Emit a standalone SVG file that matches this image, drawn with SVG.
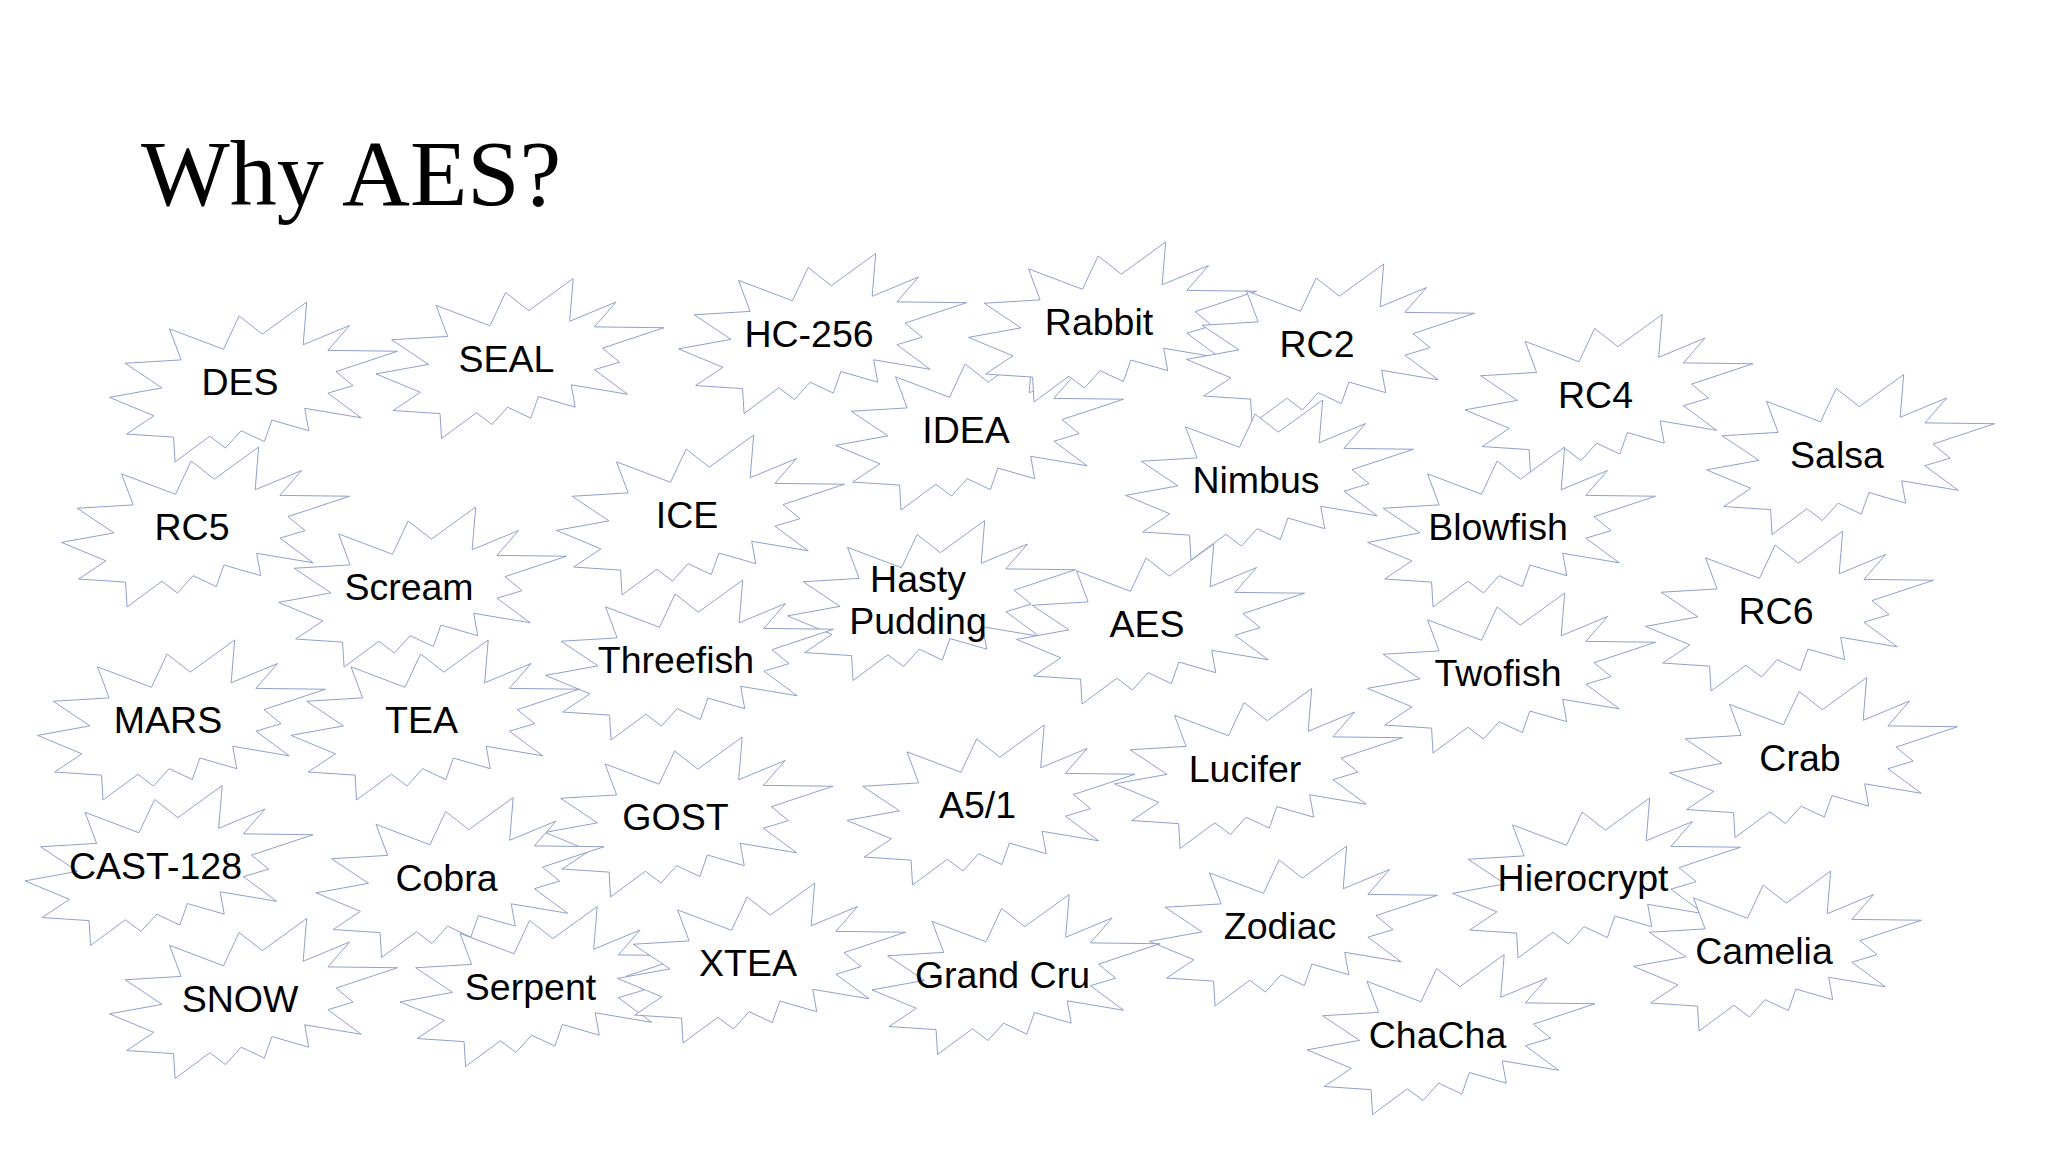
<svg xmlns="http://www.w3.org/2000/svg" width="2048" height="1152" viewBox="0 0 2048 1152">
<style>
.lbl{font-family:"Liberation Sans",Arial,sans-serif;font-size:37.5px;fill:#000;text-anchor:middle}
.title{font-family:"Liberation Serif","Times New Roman",serif;font-size:94px;fill:#000}
</style>
<defs>
<path id="star" d="M152.83,32.16 L197.2,0 L193.67,42.79 L240.09,23.5 L218.4,48.39 L288,49.22 L226.47,69.64 L243.6,83.63 L218.4,91.19 L251.69,115.79 L195.2,106.3 L199.23,128.67 L162.4,118.04 L154.83,139.57 L131.63,128.67 L116,146.01 L100.36,134.26 L65.56,160 L64.07,135.11 L17.13,132.04 L44.4,113.85 L0,95.39 L52.47,85.87 L15.63,61.26 L71.63,57.9 L60.03,26.85 L114,47.27 L129.63,13.98 Z" fill="#ffffff" stroke="#8595c4" stroke-width="0.9" stroke-linejoin="miter"/>
</defs>
<rect width="2048" height="1152" fill="#ffffff"/>
<text class="title" x="141" y="205">Why AES?</text>
<g id="nodes">
<g id="n-des" transform="translate(109.5,302)"><use href="#star"/><text class="lbl" x="130.5" y="93.4">DES</text></g>
<g id="n-seal" transform="translate(376,278.5)"><use href="#star"/><text class="lbl" x="130.5" y="93.4">SEAL</text></g>
<g id="n-hc256" transform="translate(678.5,253.5)"><use href="#star"/><text class="lbl" x="130.5" y="93.4">HC-256</text></g>
<g id="n-idea" transform="translate(835.5,350)"><use href="#star"/><text class="lbl" x="130.5" y="93.4">IDEA</text></g>
<g id="n-rabbit" transform="translate(968.5,242)"><use href="#star"/><text class="lbl" x="130.5" y="93.4">Rabbit</text></g>
<g id="n-rc2" transform="translate(1186.5,264)"><use href="#star"/><text class="lbl" x="130.5" y="93.4">RC2</text></g>
<g id="n-rc4" transform="translate(1465,314.5)"><use href="#star"/><text class="lbl" x="130.5" y="93.4">RC4</text></g>
<g id="n-salsa" transform="translate(1706.5,374.5)"><use href="#star"/><text class="lbl" x="130.5" y="93.4">Salsa</text></g>
<g id="n-nimbus" transform="translate(1125.5,400)"><use href="#star"/><text class="lbl" x="130.5" y="93.4">Nimbus</text></g>
<g id="n-rc5" transform="translate(61.5,447)"><use href="#star"/><text class="lbl" x="130.5" y="93.4">RC5</text></g>
<g id="n-ice" transform="translate(556.5,435)"><use href="#star"/><text class="lbl" x="130.5" y="93.4">ICE</text></g>
<g id="n-blowfish" transform="translate(1367.5,447)"><use href="#star"/><text class="lbl" x="130.5" y="93.4">Blowfish</text></g>
<g id="n-scream" transform="translate(278.5,507)"><use href="#star"/><text class="lbl" x="130.5" y="93.4">Scream</text></g>
<g id="n-hasty" transform="translate(787.5,520.5)"><use href="#star"/><text class="lbl" x="130.5" y="71.5">Hasty</text><text class="lbl" x="130.5" y="113.5">Pudding</text></g>
<g id="n-aes" transform="translate(1016.5,544)"><use href="#star"/><text class="lbl" x="130.5" y="93.4">AES</text></g>
<g id="n-rc6" transform="translate(1645.5,531)"><use href="#star"/><text class="lbl" x="130.5" y="93.4">RC6</text></g>
<g id="n-threefish" transform="translate(545.5,580)"><use href="#star"/><text class="lbl" x="130.5" y="93.4">Threefish</text></g>
<g id="n-twofish" transform="translate(1367.5,593)"><use href="#star"/><text class="lbl" x="130.5" y="93.4">Twofish</text></g>
<g id="n-mars" transform="translate(37.5,640)"><use href="#star"/><text class="lbl" x="130.5" y="93.4">MARS</text></g>
<g id="n-tea" transform="translate(291,640)"><use href="#star"/><text class="lbl" x="130.5" y="93.4">TEA</text></g>
<g id="n-crab" transform="translate(1669.5,677.5)"><use href="#star"/><text class="lbl" x="130.5" y="93.4">Crab</text></g>
<g id="n-lucifer" transform="translate(1114.5,688.5)"><use href="#star"/><text class="lbl" x="130.5" y="93.4">Lucifer</text></g>
<g id="n-a51" transform="translate(847,725)"><use href="#star"/><text class="lbl" x="130.5" y="93.4">A5/1</text></g>
<g id="n-gost" transform="translate(545,737)"><use href="#star"/><text class="lbl" x="130.5" y="93.4">GOST</text></g>
<g id="n-cast128" transform="translate(25,785.5)"><use href="#star"/><text class="lbl" x="130.5" y="93.4">CAST-128</text></g>
<g id="n-cobra" transform="translate(316,797.5)"><use href="#star"/><text class="lbl" x="130.5" y="93.4">Cobra</text></g>
<g id="n-hierocrypt" transform="translate(1452.5,798)"><use href="#star"/><text class="lbl" x="130.5" y="93.4">Hierocrypt</text></g>
<g id="n-zodiac" transform="translate(1149.5,846)"><use href="#star"/><text class="lbl" x="130.5" y="93.4">Zodiac</text></g>
<g id="n-camelia" transform="translate(1633.5,871)"><use href="#star"/><text class="lbl" x="130.5" y="93.4">Camelia</text></g>
<g id="n-serpent" transform="translate(400,906.5)"><use href="#star"/><text class="lbl" x="130.5" y="93.4">Serpent</text></g>
<g id="n-xtea" transform="translate(617.5,883)"><use href="#star"/><text class="lbl" x="130.5" y="93.4">XTEA</text></g>
<g id="n-grandcru" transform="translate(872,894.5)"><use href="#star"/><text class="lbl" x="130.5" y="93.4">Grand Cru</text></g>
<g id="n-snow" transform="translate(109.5,918.5)"><use href="#star"/><text class="lbl" x="130.5" y="93.4">SNOW</text></g>
<g id="n-chacha" transform="translate(1307,954.5)"><use href="#star"/><text class="lbl" x="130.5" y="93.4">ChaCha</text></g>
</g>
</svg>
